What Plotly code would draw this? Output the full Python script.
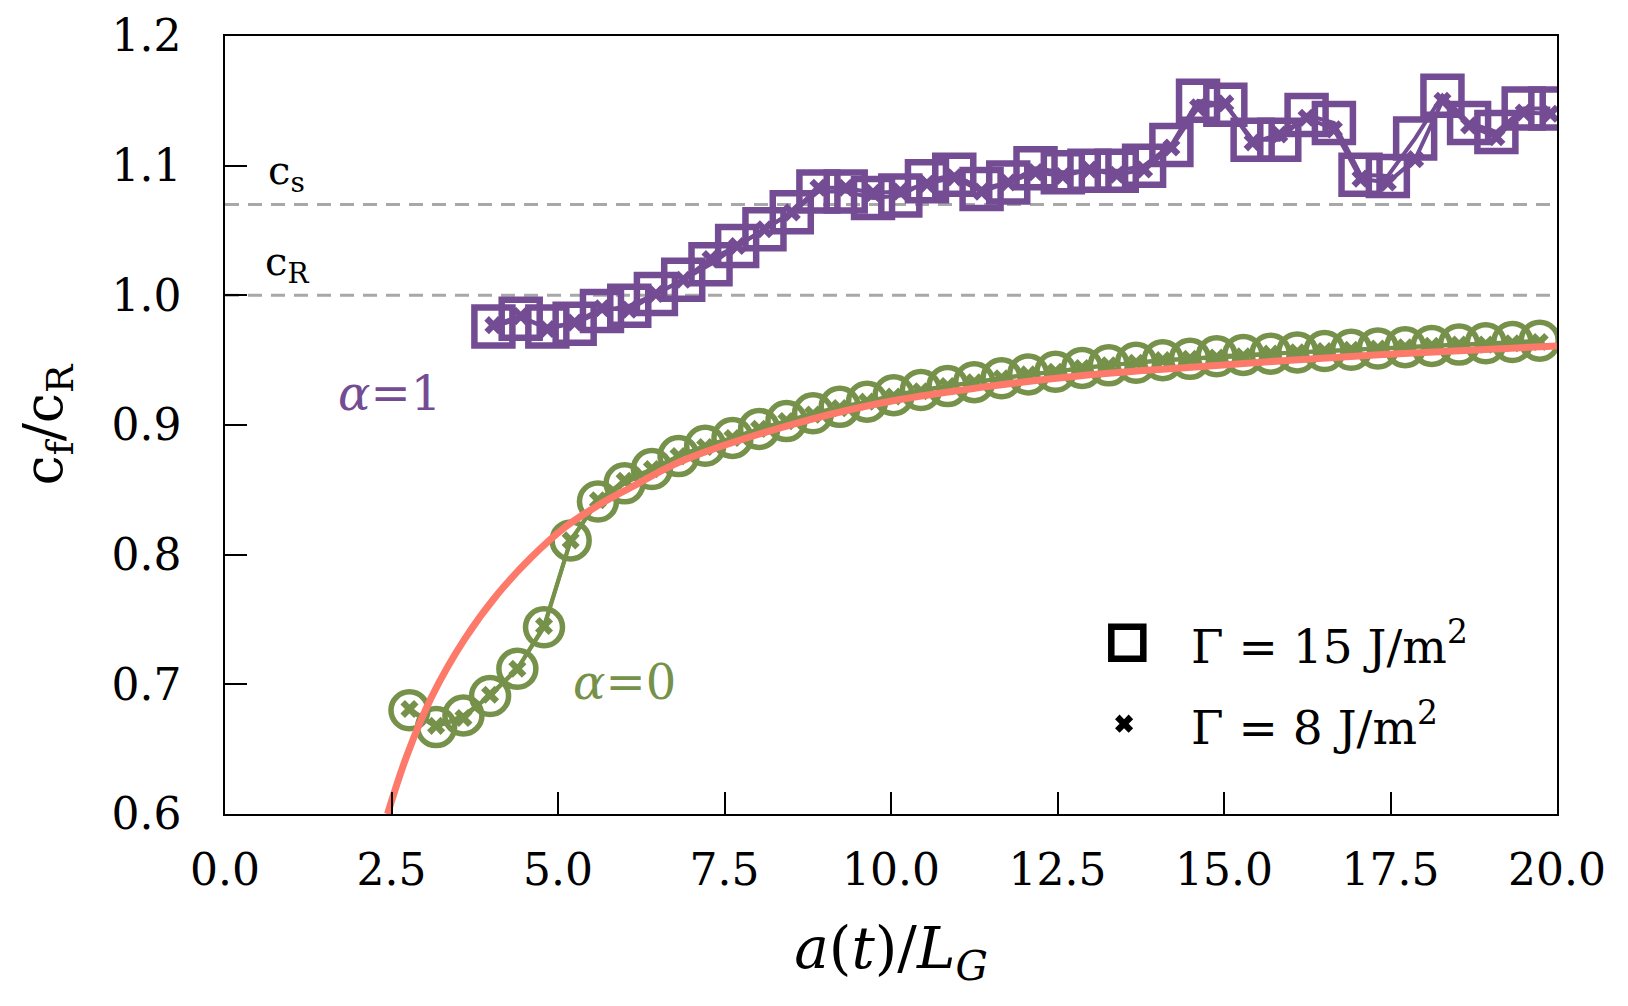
import plotly.graph_objects as go

# ---------------- data ----------------
# alpha = 0 (green)
g_x = [2.77, 3.17, 3.58, 3.98, 4.39, 4.79, 5.19, 5.60, 6.00, 6.41, 6.81, 7.21, 7.62, 8.02,
       8.43, 8.83, 9.23, 9.64, 10.04, 10.45, 10.85, 11.25, 11.66, 12.06, 12.47, 12.87, 13.27,
       13.68, 14.08, 14.49, 14.89, 15.29, 15.70, 16.10, 16.51, 16.91, 17.31, 17.72, 18.12,
       18.53, 18.93, 19.33, 19.74]
g15_y = [0.680, 0.667, 0.676, 0.691, 0.712, 0.744, 0.811, 0.841, 0.855, 0.866, 0.876, 0.884,
         0.890, 0.897, 0.903, 0.909, 0.914, 0.918, 0.923, 0.927, 0.930, 0.933, 0.936, 0.939,
         0.941, 0.944, 0.946, 0.948, 0.950, 0.951, 0.953, 0.954, 0.955, 0.956, 0.957, 0.958,
         0.959, 0.960, 0.961, 0.962, 0.963, 0.964, 0.965]
g8_y = [0.681, 0.668, 0.674, 0.692, 0.712, 0.745, 0.811, 0.842, 0.857, 0.866, 0.876, 0.883,
        0.890, 0.897, 0.903, 0.908, 0.913, 0.918, 0.922, 0.926, 0.930, 0.933, 0.936, 0.939,
        0.941, 0.944, 0.946, 0.948, 0.950, 0.951, 0.952, 0.953, 0.955, 0.956, 0.957, 0.958,
        0.959, 0.960, 0.961, 0.962, 0.962, 0.963, 0.964]

# alpha = 1 (purple)
p_x = [4.03, 4.44, 4.84, 5.25, 5.66, 6.07, 6.47, 6.88, 7.29, 7.69, 8.10, 8.51, 8.91, 9.32,
       9.73, 10.14, 10.54, 10.95, 11.36, 11.76, 12.17, 12.58, 12.98, 13.39, 13.80, 14.21,
       14.61, 15.02, 15.43, 15.83, 16.24, 16.65, 17.05, 17.46, 17.87, 18.28, 18.68, 19.09,
       19.50, 19.90]
p15_y = [0.976, 0.982, 0.976, 0.978, 0.988, 0.992, 1.001, 1.012, 1.024, 1.038, 1.051, 1.064,
         1.080, 1.080, 1.075, 1.077, 1.088, 1.093, 1.082, 1.087, 1.098, 1.095, 1.096, 1.096,
         1.100, 1.116, 1.150, 1.147, 1.120, 1.120, 1.139, 1.133, 1.093, 1.092, 1.121, 1.154,
         1.133, 1.126, 1.144, 1.144]
p8_y = [0.977, 0.984, 0.974, 0.979, 0.990, 0.989, 1.001, 1.012, 1.028, 1.038, 1.051, 1.064,
        1.083, 1.083, 1.079, 1.080, 1.086, 1.091, 1.080, 1.087, 1.095, 1.092, 1.097, 1.093,
        1.097, 1.114, 1.145, 1.148, 1.118, 1.124, 1.137, 1.128, 1.090, 1.087, 1.105, 1.150,
        1.131, 1.122, 1.141, 1.140]

# theory curve
th_x = [2.44, 2.73, 3.10, 3.60, 4.10, 4.60, 5.10, 5.60, 6.10, 6.85, 8.35, 9.85, 11.35,
        12.85, 14.35, 16.0, 18.0, 20.0]
th_y = [0.600, 0.645, 0.690, 0.735, 0.770, 0.798, 0.821, 0.838, 0.852, 0.872, 0.898, 0.917,
        0.929, 0.938, 0.944, 0.950, 0.956, 0.961]

# reference speeds
c_s = 1.07
c_R = 1.00

x_ticks = [0.0, 2.5, 5.0, 7.5, 10.0, 12.5, 15.0, 17.5, 20.0]
y_ticks = [0.6, 0.7, 0.8, 0.9, 1.0, 1.1, 1.2]

# ---------------- style ----------------
PURPLE = "#744c94"
GREEN = "#76914a"
RED = "#fd7a6b"
FONT = "DejaVu Serif"

fig = go.Figure()

# green alpha=0
fig.add_trace(go.Scatter(x=g_x, y=g15_y, mode="lines+markers",
                         line=dict(color=GREEN, width=4),
                         marker=dict(symbol="circle-open", size=37, color=GREEN,
                                     line=dict(color=GREEN, width=5.5))))
fig.add_trace(go.Scatter(x=g_x, y=g8_y, mode="lines+markers",
                         line=dict(color=GREEN, width=4),
                         marker=dict(symbol="x", size=16, color=GREEN,
                                     line=dict(width=0))))
# purple alpha=1
fig.add_trace(go.Scatter(x=p_x, y=p15_y, mode="lines+markers",
                         line=dict(color=PURPLE, width=4),
                         marker=dict(symbol="square-open", size=38, color=PURPLE,
                                     line=dict(color=PURPLE, width=6.5))))
fig.add_trace(go.Scatter(x=p_x, y=p8_y, mode="lines+markers",
                         line=dict(color=PURPLE, width=4),
                         marker=dict(symbol="x", size=16, color=PURPLE,
                                     line=dict(width=0))))
# theory
fig.add_trace(go.Scatter(x=th_x, y=th_y, mode="lines", line_shape="spline",
                         line=dict(color=RED, width=7)))

# legend glyphs on an overlay axis (paper-like 0..1)
fig.add_trace(go.Scatter(x=[0.6774], y=[0.2202], xaxis="x2", yaxis="y2", mode="markers",
                         marker=dict(symbol="square-open", size=32, color="black",
                                     line=dict(color="black", width=6.5)),
                         cliponaxis=False))
fig.add_trace(go.Scatter(x=[0.6750], y=[0.1161], xaxis="x2", yaxis="y2", mode="markers",
                         marker=dict(symbol="x", size=16, color="black", line=dict(width=0)),
                         cliponaxis=False))

# dashed reference lines
for yv in (c_s, c_R):
    fig.add_shape(type="line", xref="x", yref="y", x0=0, x1=20, y0=yv, y1=yv,
                  line=dict(color="#a8a8a8", width=3, dash="14px,9px"), layer="below")

ann = [
    dict(x=0.93, y=1.094, text="c<sub>s</sub>", font=dict(size=40, color="black")),
    dict(x=0.93, y=1.024, text="c<sub>R</sub>", font=dict(size=40, color="black")),
    dict(x=2.47, y=0.925, text="<i>α</i>=1", font=dict(size=48, color=PURPLE)),
    dict(x=6.0, y=0.702, text="<i>α</i>=0", font=dict(size=48, color=GREEN)),
]
for a in ann:
    fig.add_annotation(xref="x", yref="y", showarrow=False, xanchor="center",
                       yanchor="middle", font_family=FONT, **a)

fig.add_annotation(xref="paper", yref="paper", x=0.724, y=0.2202, xanchor="left",
                   yanchor="middle", showarrow=False, text="Γ = 15 J/m<sup>2</sup>",
                   font=dict(family=FONT, size=47, color="black"))
fig.add_annotation(xref="paper", yref="paper", x=0.724, y=0.1161, xanchor="left",
                   yanchor="middle", showarrow=False, text="Γ = 8 J/m<sup>2</sup>",
                   font=dict(family=FONT, size=47, color="black"))

axis_common = dict(showline=True, linecolor="black", linewidth=1.5, mirror=True,
                   ticks="inside", ticklen=22, tickwidth=1.5, tickcolor="black",
                   showgrid=False, zeroline=False, automargin=False,
                   tickfont=dict(family=FONT, size=44, color="black"))

fig.update_layout(
    width=1628, height=1006, autosize=False,
    margin=dict(l=217, r=79, t=28, b=200),
    paper_bgcolor="white", plot_bgcolor="white",
    showlegend=False,
    xaxis=dict(range=[0, 20], tickvals=x_ticks, ticktext=[f"{v:.1f}" for v in x_ticks],
               ticklabelstandoff=16,
               title=dict(text="<i>a</i>(<i>t</i>)/<i>L<sub>G</sub></i>", standoff=34,
                          font=dict(family=FONT, size=58, color="black")),
               **axis_common),
    yaxis=dict(range=[0.6, 1.2], tickvals=y_ticks, ticktext=[f"{v:.1f}" for v in y_ticks],
               ticklabelstandoff=33,
               title=dict(text="c<sub>f</sub>/c<sub>R</sub>", standoff=32,
                          font=dict(family=FONT, size=54, color="black")),
               **axis_common),
    xaxis2=dict(overlaying="x", range=[0, 1], visible=False),
    yaxis2=dict(overlaying="y", range=[0, 1], visible=False),
)

fig.write_html("out.html")
